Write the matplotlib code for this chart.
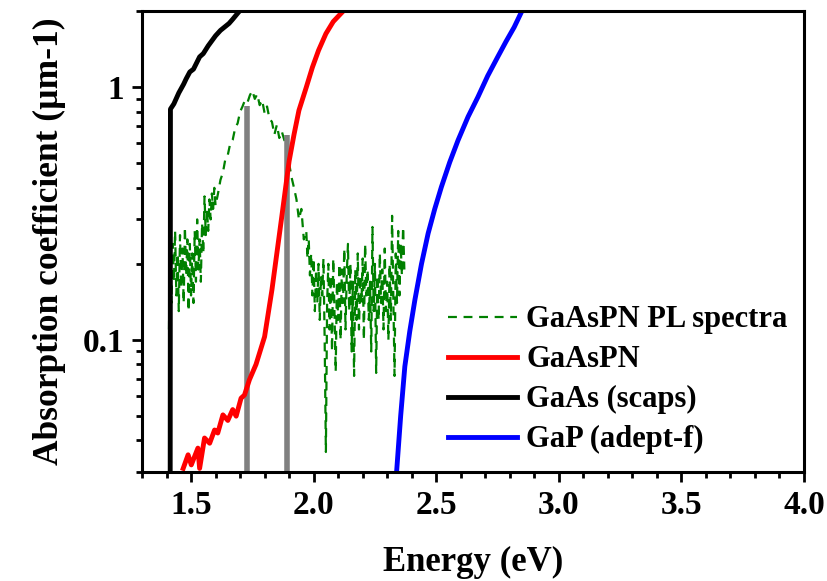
import numpy as np
import matplotlib.pyplot as plt
from matplotlib.ticker import LogLocator, MultipleLocator, FixedLocator, NullFormatter

plt.rcParams['font.family'] = ['Liberation Serif', 'DejaVu Serif']
plt.rcParams['font.weight'] = 'bold'

# GaAs (scaps)
gaas_e = [1.415, 1.416, 1.43, 1.45, 1.47, 1.48, 1.495, 1.51, 1.535, 1.55, 1.57,
          1.60, 1.62, 1.655, 1.67, 1.695, 1.72]
gaas_a = [0.030, 0.82, 0.86, 0.95, 1.03, 1.08, 1.15, 1.18, 1.32, 1.36, 1.46,
          1.60, 1.68, 1.79, 1.86, 1.99, 2.1]

# GaAsPN
gaaspn_e = [1.468, 1.488, 1.501, 1.528, 1.535, 1.555, 1.576, 1.596, 1.609, 1.63, 1.65,
            1.67, 1.684, 1.704, 1.718, 1.738, 1.765, 1.80, 1.83, 1.87, 1.90, 1.92,
            1.94, 1.97, 1.995, 2.02, 2.05, 2.08, 2.12]
gaaspn_a = [0.031, 0.0351, 0.032, 0.0373, 0.031, 0.0409, 0.039, 0.044, 0.0428, 0.0505, 0.048,
            0.053, 0.0499, 0.0588, 0.0605, 0.0695, 0.080, 0.103, 0.158, 0.307, 0.51, 0.65,
            0.81, 1.0, 1.20, 1.40, 1.63, 1.82, 2.0]

# GaP (adept-f)
gap_e = [2.339, 2.355, 2.372, 2.392, 2.413, 2.44, 2.467, 2.494, 2.521, 2.555, 2.589,
         2.630, 2.670, 2.710, 2.751, 2.785, 2.818, 2.848]
gap_a = [0.0306, 0.050, 0.0785, 0.108, 0.144, 0.200, 0.264, 0.330, 0.403, 0.505, 0.617,
         0.765, 0.915, 1.11, 1.32, 1.52, 1.73, 1.99]

# GaAsPN PL spectra (normalised)
pl_e = [1.410, 1.415, 1.420, 1.425, 1.430, 1.435, 1.440, 1.445, 1.450, 1.455,
        1.460, 1.465, 1.470, 1.475, 1.480, 1.485, 1.490, 1.495, 1.500, 1.505,
        1.510, 1.515, 1.520, 1.525, 1.530, 1.535, 1.540, 1.545, 1.550, 1.555,
        1.560, 1.565, 1.570, 1.575, 1.580, 1.585, 1.590, 1.595, 1.600,
        1.61, 1.62, 1.63, 1.64, 1.65, 1.66, 1.67, 1.68, 1.69, 1.70,
        1.71, 1.72, 1.73, 1.74, 1.75, 1.76, 1.77, 1.78, 1.79, 1.80,
        1.81, 1.82, 1.83, 1.84, 1.85, 1.86, 1.87, 1.88, 1.89, 1.90,
        1.91, 1.92, 1.93, 1.94, 1.95, 1.96, 1.97,
        1.975, 1.980, 1.985, 1.990, 1.995, 2.000, 2.005, 2.010, 2.015, 2.020,
        2.025, 2.030, 2.035, 2.040, 2.045, 2.050, 2.055, 2.060, 2.065, 2.070,
        2.075, 2.080, 2.085, 2.090, 2.095, 2.100, 2.105, 2.110, 2.115, 2.120,
        2.125, 2.130, 2.135, 2.140, 2.145, 2.150, 2.155, 2.160, 2.165, 2.170,
        2.175, 2.180, 2.185, 2.190, 2.195, 2.200, 2.205, 2.210, 2.215, 2.220,
        2.225, 2.230, 2.235, 2.240, 2.245, 2.250, 2.255, 2.260, 2.265, 2.270,
        2.275, 2.280, 2.285, 2.290, 2.295, 2.300, 2.305, 2.310, 2.315, 2.320,
        2.325, 2.330, 2.335, 2.340, 2.345, 2.350, 2.355, 2.360, 2.365, 2.370]
pl_a = [0.11, 0.30, 0.14, 0.24, 0.17, 0.27, 0.15, 0.22, 0.13, 0.26,
        0.16, 0.23, 0.14, 0.28, 0.18, 0.25, 0.13, 0.24, 0.15, 0.22,
        0.14, 0.27, 0.17, 0.30, 0.19, 0.25, 0.17, 0.29, 0.22, 0.37,
        0.26, 0.33, 0.27, 0.36, 0.30, 0.38, 0.33, 0.40, 0.34,
        0.38, 0.43, 0.46, 0.52, 0.54, 0.60, 0.62, 0.69, 0.72, 0.80,
        0.84, 0.89, 0.87, 0.93, 0.97, 0.90, 0.94, 0.85, 0.89, 0.79,
        0.84, 0.75, 0.73, 0.65, 0.71, 0.63, 0.67, 0.62, 0.58, 0.50,
        0.44, 0.40, 0.36, 0.30, 0.33, 0.25, 0.27,
        0.21, 0.25, 0.18, 0.22, 0.15, 0.21, 0.13, 0.19, 0.14, 0.20,
        0.12, 0.18, 0.15, 0.21, 0.10, 0.036, 0.14, 0.20, 0.11, 0.18,
        0.09, 0.21, 0.13, 0.075, 0.17, 0.12, 0.20, 0.10, 0.19, 0.14,
        0.23, 0.11, 0.18, 0.24, 0.13, 0.20, 0.09, 0.17, 0.072, 0.19,
        0.12, 0.22, 0.11, 0.18, 0.14, 0.21, 0.10, 0.24, 0.15, 0.19,
        0.12, 0.17, 0.09, 0.28, 0.13, 0.20, 0.074, 0.18, 0.12, 0.22,
        0.14, 0.19, 0.11, 0.23, 0.13, 0.17, 0.10, 0.20, 0.12, 0.31,
        0.15, 0.072, 0.22, 0.14, 0.27, 0.15, 0.24, 0.18, 0.28, 0.19]

# grey markers (energy, height)
bar_e = [1.73, 1.89]
bar_a = [0.84, 0.65]

fig = plt.figure(figsize=(8.28, 5.81), dpi=100)
ax = fig.add_axes([0.1715, 0.1876, 0.7995, 0.793])

ax.plot(pl_e, pl_a, color='green', lw=1.6, ls=(0, (4, 3)), label='GaAsPN PL spectra')
for e, a in zip(bar_e, bar_a):
    ax.plot([e, e], [0.03, a], color='grey', lw=4, solid_capstyle='butt')
ax.plot(gaaspn_e, gaaspn_a, color='red', lw=3.5, label='GaAsPN')
ax.plot(gaas_e, gaas_a, color='black', lw=3.5, label='GaAs (scaps)')
ax.plot(gap_e, gap_a, color='blue', lw=3.5, label='GaP (adept-f)')

ax.set_yscale('log')
ax.set_xlim(1.3, 4.0)
ax.set_ylim(0.03, 2.0)
ax.xaxis.set_major_locator(FixedLocator([1.5, 2.0, 2.5, 3.0, 3.5, 4.0]))
ax.xaxis.set_minor_locator(MultipleLocator(0.1))
ax.yaxis.set_major_locator(FixedLocator([0.1, 1]))
ax.set_yticklabels(['0.1', '1'])
ax.yaxis.set_minor_locator(LogLocator(base=10, subs=np.arange(2, 10)))
ax.yaxis.set_minor_formatter(NullFormatter())

ax.tick_params(which='major', direction='out', length=7, width=2, labelsize=24, pad=6)
ax.tick_params(which='minor', direction='out', length=4, width=2)
for lab in ax.get_xticklabels() + ax.get_yticklabels():
    lab.set_fontweight('bold')
for s in ax.spines.values():
    s.set_linewidth(2.2)

ax.set_xlabel('Energy (eV)', fontsize=25, fontweight='bold', labelpad=18)
ax.set_ylabel('Absorption coefficient (µm-1)', fontsize=25.5, fontweight='bold', labelpad=12)

leg = ax.legend(loc='upper left', bbox_to_anchor=(0.4615, 0.362), frameon=False,
                fontsize=22, handlelength=2.27, handletextpad=0.3, labelspacing=0.36,
                borderpad=0, borderaxespad=0)
for t in leg.get_texts():
    t.set_fontweight('bold')

fig.savefig('out.png', dpi=100)
